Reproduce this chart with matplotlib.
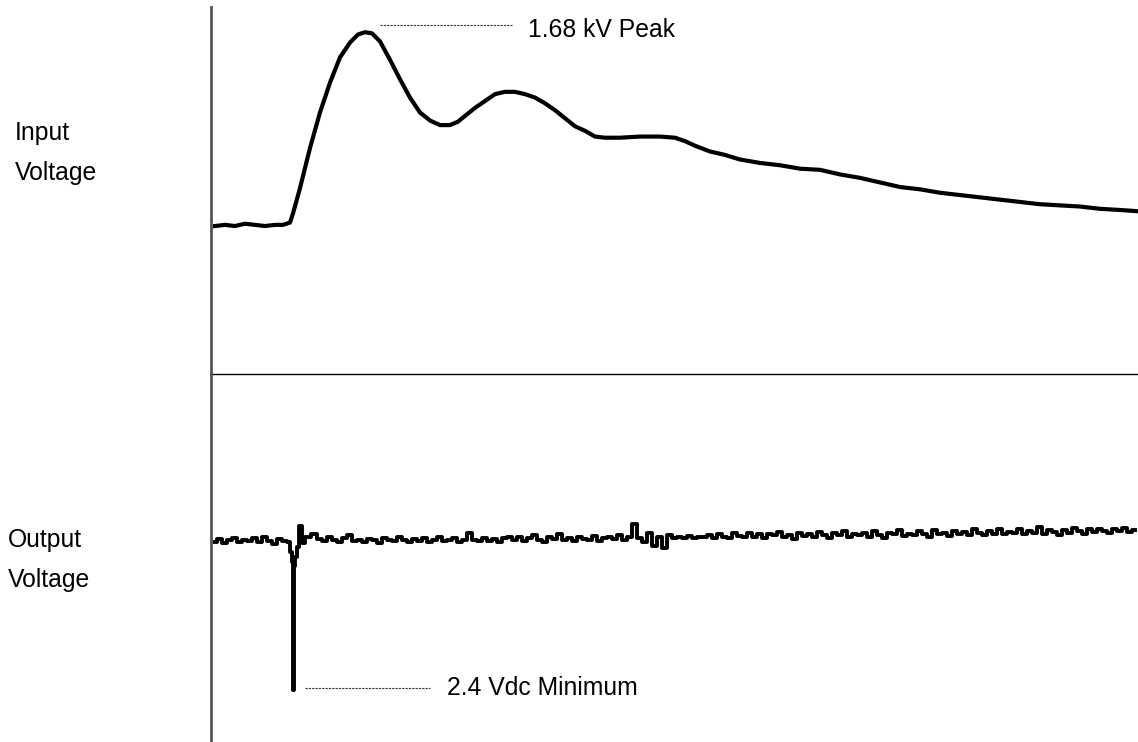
import numpy as np
import matplotlib.pyplot as plt

plt.rcParams['font.family'] = ['Liberation Sans', 'DejaVu Sans']

# input voltage trace (time in us, voltage in kV)
in_t = [0.4, 1.4, 2.4, 3.4, 4.4, 5.4, 6.4, 7.2, 7.9, 8.2, 8.9, 9.9, 10.9, 11.9,
        12.9, 13.9, 14.7, 15.4, 16.1, 16.9, 17.9, 18.9, 19.9, 20.9, 21.9, 22.9,
        23.9, 24.7, 25.4, 26.4, 27.4, 28.4, 29.4, 30.4, 31.4, 32.4, 33.4, 34.4,
        35.4, 36.4, 37.4, 38.4, 39.4, 40.9, 42.9, 44.9, 46.4, 47.4, 48.4, 49.9,
        51.4, 52.9, 54.9, 56.9, 58.9, 60.9, 62.9, 64.9, 66.9, 68.9, 70.9, 72.9,
        74.9, 76.9, 78.9, 80.9, 82.9, 84.9, 86.9, 88.9, 90.9, 92.5]
in_v = [-0.01, 0.0, -0.01, 0.01, 0.0, -0.01, 0.0, 0.0, 0.02, 0.10, 0.32, 0.67,
        0.98, 1.24, 1.46, 1.59, 1.66, 1.68, 1.67, 1.60, 1.44, 1.27, 1.11, 0.98,
        0.91, 0.87, 0.87, 0.90, 0.95, 1.02, 1.08, 1.14, 1.16, 1.16, 1.14, 1.11,
        1.06, 1.00, 0.93, 0.86, 0.82, 0.77, 0.76, 0.76, 0.77, 0.77, 0.76, 0.73,
        0.69, 0.64, 0.61, 0.57, 0.54, 0.52, 0.49, 0.48, 0.44, 0.41, 0.37, 0.33,
        0.31, 0.28, 0.26, 0.24, 0.22, 0.20, 0.18, 0.17, 0.16, 0.14, 0.13, 0.12]

# output voltage trace (V), sampled every 0.5 us
pre_t = np.arange(0.4, 7.5, 0.5)
pre_v = [4.97, 5.02, 4.95, 5.00, 5.04, 4.96, 5.01, 4.98, 5.03, 4.96, 5.05, 4.99,
         4.94, 5.02, 4.98]
dip_t = [7.8, 8.0, 8.2, 8.3, 8.4, 8.5, 8.7, 9.0, 9.3, 9.6]
dip_v = [4.96, 4.80, 4.62, 2.40, 4.55, 4.70, 4.88, 5.25, 4.95, 5.05]
post_t = np.arange(10.4, 92.5, 0.5)
post_v = [5.10, 5.02, 4.98, 5.06, 5.00, 4.97, 5.03, 5.08, 4.99, 5.01,
          4.96, 5.02, 5.00, 4.95, 5.04, 5.01, 4.98, 5.06, 5.00, 4.97,
          5.02, 4.99, 5.03, 4.96, 5.01, 5.05, 4.98, 5.00, 5.03, 4.97,
          5.01, 5.12, 5.00, 4.98, 5.04, 4.99, 5.02, 4.96, 5.03, 5.05,
          5.00, 5.06, 4.98, 5.03, 5.08, 5.01, 4.97, 5.05, 5.02, 5.10,
          5.01, 5.04, 4.99, 5.06, 5.02, 5.00, 5.07, 4.98, 5.03, 5.05,
          5.02, 5.09, 5.00, 5.05, 5.28, 5.04, 4.96, 5.12, 4.90, 5.06,
          4.86, 5.08, 5.03, 5.05, 5.04, 5.07, 5.03, 5.06, 5.05, 5.09,
          5.04, 5.10, 5.06, 5.03, 5.12, 5.07, 5.05, 5.13, 5.06, 5.10,
          5.04, 5.11, 5.08, 5.14, 5.05, 5.09, 5.02, 5.12, 5.07, 5.10,
          5.06, 5.14, 5.08, 5.03, 5.12, 5.09, 5.15, 5.05, 5.11, 5.08,
          5.13, 5.06, 5.16, 5.09, 5.04, 5.12, 5.10, 5.17, 5.07, 5.11,
          5.08, 5.15, 5.11, 5.06, 5.18, 5.10, 5.13, 5.07, 5.16, 5.11,
          5.14, 5.09, 5.19, 5.12, 5.08, 5.16, 5.11, 5.20, 5.10, 5.14,
          5.12, 5.19, 5.10, 5.16, 5.13, 5.22, 5.11, 5.17, 5.14, 5.09,
          5.18, 5.13, 5.21, 5.15, 5.11, 5.19, 5.14, 5.20, 5.16, 5.12,
          5.19, 5.15, 5.21, 5.14, 5.18]
out_t = np.concatenate([pre_t, dip_t, post_t])
out_v = np.concatenate([pre_v, dip_v, post_v])

peak_label = "1.68 kV Peak"
min_label = "2.4 Vdc Minimum"

fig = plt.figure(figsize=(11.38, 7.42), dpi=100)
ax1 = fig.add_axes([0.1854, 0.496, 0.8146, 0.4946])
ax2 = fig.add_axes([0.1854, 0.0, 0.8146, 0.496])

ax1.plot(in_t, in_v, color='black', lw=3)
ax2.plot(out_t, out_v, color='black', lw=2.8, drawstyle='steps-mid')

# annotations
ax1.plot([16.9, 30.1], [1.74, 1.74], color='#333333', lw=0.8, ls=(0, (2, 1)))
ax1.text(31.7, 1.70, peak_label, fontsize=17.8, va='center', ha='left')
ax2.plot([9.4, 21.9], [2.44, 2.44], color='#333333', lw=0.8, ls=(0, (2, 1)))
ax2.text(23.6, 2.44, min_label, fontsize=17.8, va='center', ha='left')

ax1.set_xlim(0, 92.7)
ax2.set_xlim(0, 92.7)
ax1.set_ylim(-1.30, 1.90)
ax2.set_ylim(1.50, 7.88)

for ax in (ax1, ax2):
    ax.set_xticks([])
    ax.set_yticks([])
    ax.spines['top'].set_visible(False)
    ax.spines['right'].set_visible(False)
    ax.spines['left'].set_color('#555555')
    ax.spines['left'].set_linewidth(2)
    ax.patch.set_alpha(0)
ax1.spines['bottom'].set_color('black')
ax1.spines['bottom'].set_linewidth(1)
ax2.spines['bottom'].set_visible(False)

fig.text(15 / 1138, 1 - 133 / 742, "Input", fontsize=17.8, va='center', ha='left')
fig.text(15 / 1138, 1 - 173 / 742, "Voltage", fontsize=17.8, va='center', ha='left')
fig.text(8 / 1138, 1 - 540 / 742, "Output", fontsize=17.8, va='center', ha='left')
fig.text(8 / 1138, 1 - 580 / 742, "Voltage", fontsize=17.8, va='center', ha='left')

fig.savefig("out.png", dpi=100)
